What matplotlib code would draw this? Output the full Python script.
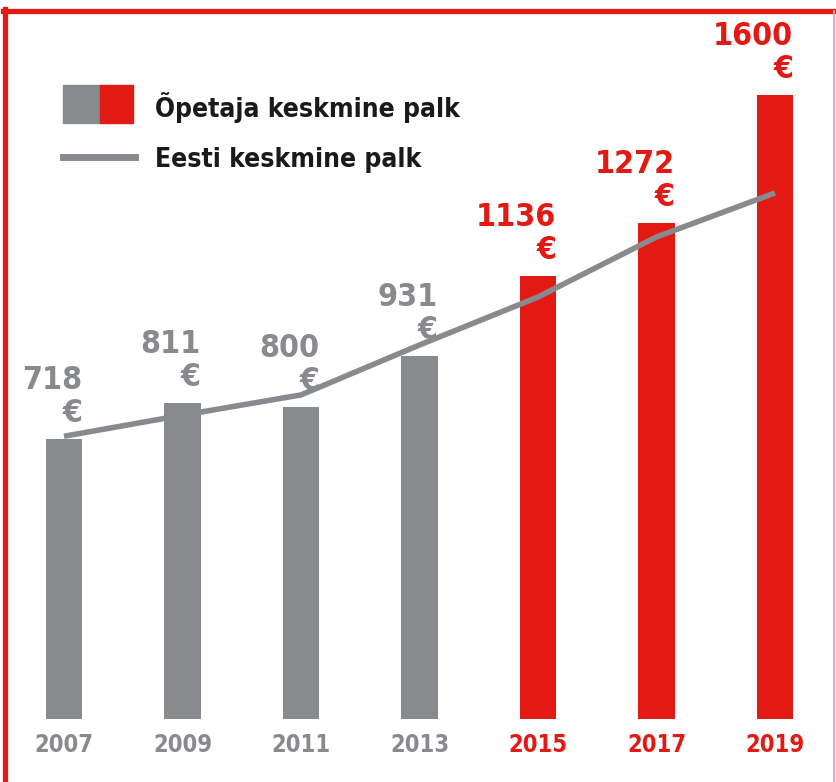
import matplotlib
matplotlib.use('Agg')
import matplotlib.pyplot as plt
from matplotlib.patches import Rectangle
from matplotlib.lines import Line2D

GRAY = '#888a8d'
RED = '#e31a13'
FONT = ['DejaVu Sans']
STRETCH = 'condensed'

years = ['2007', '2009', '2011', '2013', '2015', '2017', '2019']
teacher_pay = [718, 811, 800, 931, 1136, 1272, 1600]
estonia_pay = [725, 779, 831, 959, 1082, 1236, 1349]
is_red = [False, False, False, False, True, True, True]

fig = plt.figure(figsize=(8.36, 7.82), dpi=100)
ax = fig.add_axes([0, 0, 1, 1])
ax.set_xlim(-0.540, 6.515)
ax.set_ylim(-161.5, 1843.6)
ax.axis('off')

x = list(range(len(years)))
cols = [RED if r else GRAY for r in is_red]
ax.bar(x, teacher_pay, width=0.31, color=cols, zorder=2)
ax.plot(x, estonia_pay, color=GRAY, lw=4.0, solid_capstyle='butt', zorder=3)

for i, (v, c) in enumerate(zip(teacher_pay, cols)):
    ax.annotate(f'{v}\n€', xy=(i + 0.155, v), xytext=(0, 7),
                textcoords='offset points', ha='right', va='bottom',
                multialignment='right', linespacing=1.08,
                fontsize=23, fontweight='bold', fontstretch=STRETCH,
                color=c, family=FONT, zorder=4)
    ax.annotate(years[i], xy=(i, 0), xytext=(0, -19),
                textcoords='offset points', ha='center', va='center',
                fontsize=17, fontweight='bold', fontstretch=STRETCH,
                color=c, family=FONT)

# legend
fig.patches.append(Rectangle((0.0754, 0.8427), 0.0443, 0.0486,
                             transform=fig.transFigure, color=GRAY))
fig.patches.append(Rectangle((0.1196, 0.8427), 0.0395, 0.0486,
                             transform=fig.transFigure, color=RED))
fig.text(0.1854, 0.8504, 'Õpetaja keskmine palk', fontsize=19,
         fontweight='bold', fontstretch=STRETCH, color='#1a1a1a',
         family=FONT, va='baseline')
fig.lines.append(Line2D([0.0754, 0.1615], [0.7992, 0.7992],
                        transform=fig.transFigure, color=GRAY, lw=5))
fig.text(0.1854, 0.7864, 'Eesti keskmine palk', fontsize=19,
         fontweight='bold', fontstretch=STRETCH, color='#1a1a1a',
         family=FONT, va='baseline')

# frame
fig.lines.append(Line2D([0.004, 1.0], [0.986, 0.986],
                        transform=fig.transFigure, color=RED, lw=3.8))
fig.lines.append(Line2D([0.006, 0.006], [0.0, 0.989],
                        transform=fig.transFigure, color=RED, lw=3.8))
fig.lines.append(Line2D([0.9976, 0.9976], [0.0, 0.986],
                        transform=fig.transFigure, color='#f2a3a3', lw=1.4))

fig.savefig('out.png', dpi=100)
